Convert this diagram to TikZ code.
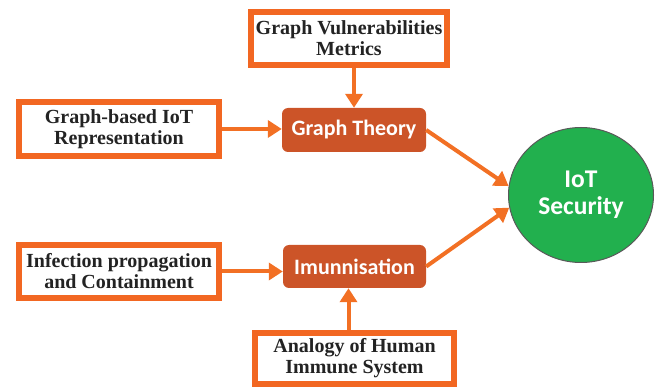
\documentclass[tikz,border=0pt]{standalone}
\usepackage{fontspec}
\newfontfamily\serifbox{Liberation Serif}
\newfontfamily\calib{Carlito}
\usetikzlibrary{arrows.meta,shapes.geometric}
\definecolor{frameorange}{RGB}{242,103,34}
\definecolor{boxorange}{RGB}{204,84,40}
\definecolor{arrorange}{RGB}{242,112,36}
\definecolor{secgreen}{RGB}{34,176,78}
\definecolor{txtdark}{RGB}{35,35,35}
\tikzset{
  framebox/.style={draw=frameorange, line width=6pt, fill=white, align=center,
    inner sep=0pt, text=txtdark,
    font=\serifbox\bfseries\fontsize{20}{21}\selectfont},
  mainbox/.style={fill=boxorange, rounded corners=6pt, text=white, align=center,
    inner sep=0pt, font=\calib\bfseries\fontsize{22}{24}\selectfont},
  goal/.style={ellipse, fill=secgreen, draw=black!65, line width=1pt, text=white,
    align=center, inner sep=0pt, font=\calib\bfseries\fontsize{25.5}{27}\selectfont},
  link/.style={draw=arrorange, line width=4pt,
    -{Triangle[length=14pt,width=17pt]}}
}
\begin{document}
\begin{tikzpicture}[x=1pt,y=-1pt]
\useasboundingbox (0,0) rectangle (661,387);
\clip (0,0) rectangle (661,387);
\node[framebox, minimum width=196pt, minimum height=53pt] (top) at (349,38.5)
  {Graph Vulnerabilities\\Metrics};
\node[framebox, minimum width=200pt, minimum height=54pt] (gbi) at (119,129)
  {Graph-based IoT\\Representation};
\node[framebox, minimum width=200pt, minimum height=53pt] (inf) at (119,271.5)
  {Infection propagation\\and Containment};
\node[framebox, minimum width=199pt, minimum height=51pt] (ana) at (354.5,358.5)
  {Analogy of Human\\Immune System};
\node[mainbox, minimum width=144pt, minimum height=44pt] (gt) at (354,130)
  {Graph Theory};
\node[mainbox, minimum width=143pt, minimum height=43pt] (im) at (354.5,266.5)
  {Imunnisation};
\node[goal, minimum width=145pt, minimum height=135pt] (iot) at (581,195)
  {IoT\\Security};
\draw[link] (top.south -| gt.north) -- (gt.north);
\draw[link] (gbi.east) -- (gbi.east -| gt.west);
\draw[link] (inf.east) -- (inf.east -| im.west);
\draw[link] ([xshift=-6pt]ana.north) -- ([xshift=-6pt]ana.north |- im.south);
\draw[link] (gt.east) -- (iot.173);
\draw[link] (im.east) -- (iot.190);
\end{tikzpicture}
\end{document}
